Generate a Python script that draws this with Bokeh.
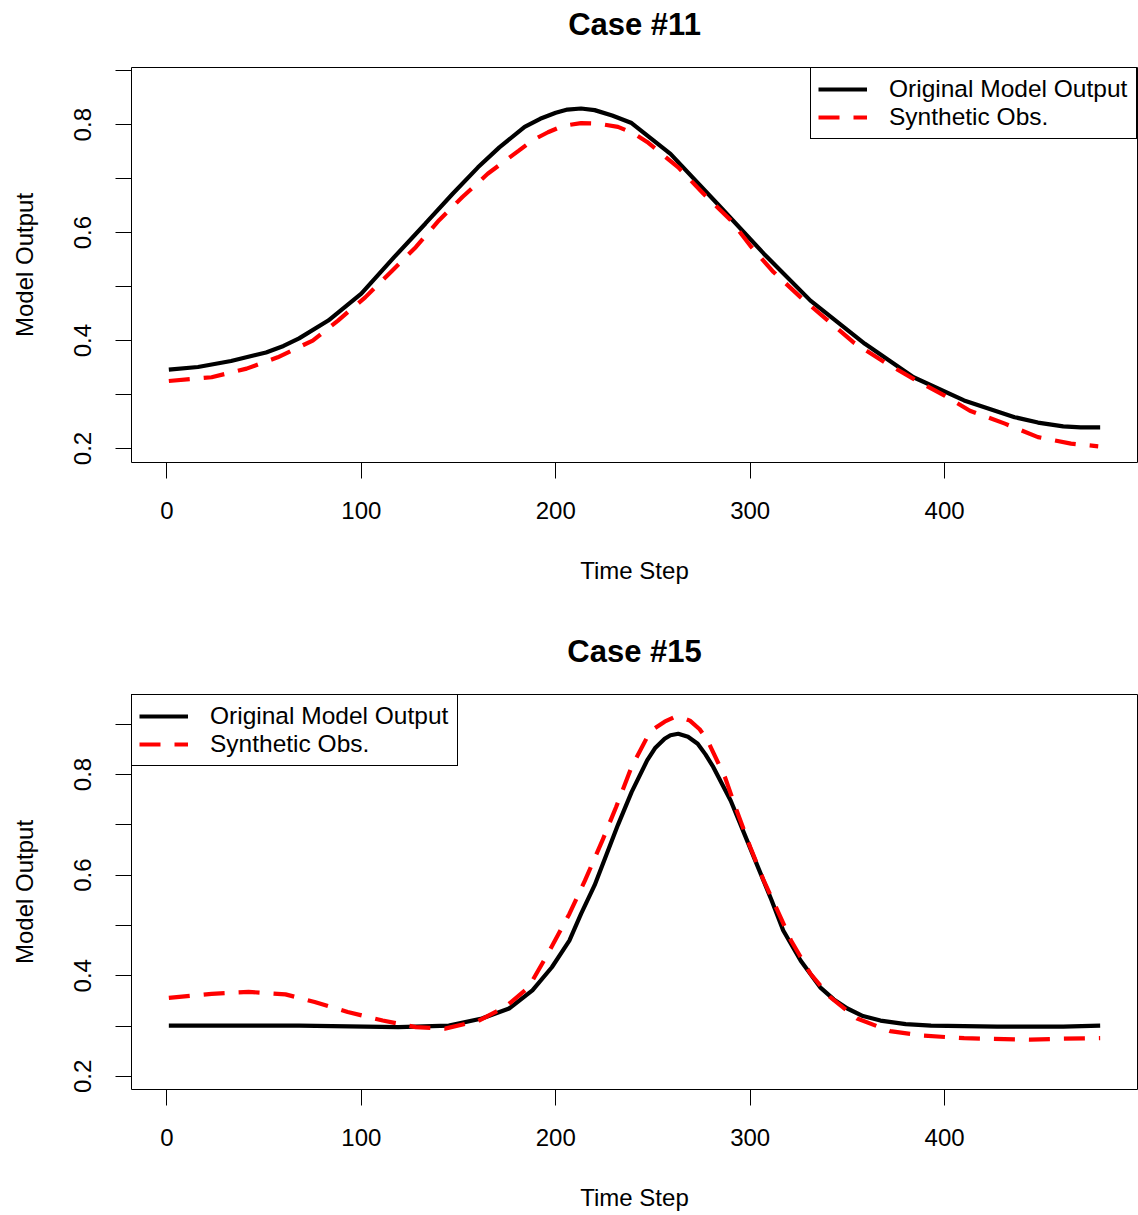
from bokeh.plotting import figure
from bokeh.models import Range1d, FixedTicker, Legend, LegendItem, Title
from bokeh.layouts import column
from bokeh.embed import file_html
from bokeh.resources import INLINE

# ---------------- data ----------------
x_ticks = [0, 100, 200, 300, 400]
y_ticks = [0.2, 0.4, 0.6, 0.8]
y_minor_ticks = [0.3, 0.5, 0.7, 0.9]

series_labels = ["Original Model Output", "Synthetic Obs."]
titles = ["Case #11", "Case #15"]

case11_model_x = [1, 16, 33, 51, 60, 68, 83, 100, 117, 133, 147, 160, 171, 184, 192, 200,
                  206, 213, 220, 229, 239, 259, 283, 307, 331, 359, 384, 410, 436, 448,
                  461, 470, 480]
case11_model_y = [0.346, 0.351, 0.362, 0.378, 0.390, 0.404, 0.437, 0.487, 0.555, 0.617,
                  0.672, 0.721, 0.758, 0.796, 0.811, 0.822, 0.828, 0.830, 0.827, 0.817,
                  0.803, 0.746, 0.654, 0.561, 0.474, 0.394, 0.332, 0.289, 0.258, 0.248,
                  0.241, 0.239, 0.239]

case11_obs_x = [1, 23, 41, 57, 75, 88, 102, 116, 128, 140, 152, 165, 181, 188, 196, 204,
                213, 222, 232, 240, 247, 263, 276, 290, 300, 312, 326, 340, 353, 369, 384,
                400, 413, 431, 448, 465, 479]
case11_obs_y = [0.325, 0.332, 0.348, 0.369, 0.400, 0.437, 0.480, 0.530, 0.573, 0.623,
                0.666, 0.709, 0.752, 0.771, 0.786, 0.798, 0.803, 0.802, 0.796, 0.784,
                0.768, 0.721, 0.672, 0.623, 0.576, 0.527, 0.480, 0.437, 0.397, 0.360,
                0.329, 0.298, 0.270, 0.246, 0.221, 0.209, 0.204]

case15_model_x = [1, 68, 119, 145, 162, 176, 188, 198, 207, 213, 220, 226, 232, 239, 247,
                  251, 256, 259, 263, 268, 273, 277, 281, 290, 297, 304, 311, 317, 326,
                  336, 343, 350, 358, 367, 380, 393, 427, 461, 480]
case15_model_y = [0.301, 0.301, 0.298, 0.301, 0.315, 0.335, 0.371, 0.417, 0.470, 0.523,
                  0.580, 0.640, 0.700, 0.765, 0.828, 0.852, 0.871, 0.878, 0.881, 0.875,
                  0.861, 0.840, 0.815, 0.748, 0.682, 0.616, 0.550, 0.490, 0.430, 0.377,
                  0.353, 0.335, 0.320, 0.311, 0.304, 0.301, 0.299, 0.299, 0.301]

case15_obs_x = [1, 23, 42, 61, 76, 93, 111, 128, 143, 160, 174, 186, 196, 207, 215, 224,
                231, 239, 247, 251, 256, 261, 265, 269, 274, 278, 287, 293, 300, 307, 314,
                321, 331, 341, 355, 372, 389, 410, 444, 461, 480]
case15_obs_y = [0.356, 0.364, 0.368, 0.363, 0.348, 0.328, 0.311, 0.298, 0.295, 0.310,
                0.338, 0.377, 0.444, 0.523, 0.589, 0.669, 0.735, 0.815, 0.874, 0.892,
                0.905, 0.914, 0.913, 0.907, 0.890, 0.868, 0.795, 0.729, 0.656, 0.589,
                0.530, 0.470, 0.404, 0.358, 0.315, 0.290, 0.281, 0.276, 0.273, 0.275,
                0.276]

FONT = "Liberation Sans"


def make_panel(title, mx, my, ox, oy, y_top, height, legend_loc, label_width):
    p = figure(width=1138, height=height, output_backend="svg", toolbar_location=None,
               x_range=Range1d(-18.2, 499.2), y_range=Range1d(0.174, y_top),
               min_border_left=131, min_border_right=1, min_border_top=67,
               min_border_bottom=height - 462, title_location=None)
    p.background_fill_color = "white"
    p.border_fill_color = "white"
    p.outline_line_color = "black"
    p.outline_line_width = 1
    p.outline_line_alpha = 1
    p.xgrid.visible = False
    p.ygrid.visible = False

    # spacer between the frame and the title (nearest the frame)
    p.add_layout(Title(text=" ", text_font_size="1px", standoff=23), "above")
    # the visible title
    p.add_layout(Title(text=title, text_font=FONT, text_font_size="31px",
                       text_font_style="bold", text_color="black",
                       align="center", standoff=0), "above")

    for ax in (p.xaxis[0], p.yaxis[0]):
        ax.axis_line_color = None
        ax.major_tick_out = 16
        ax.major_tick_in = 0
        ax.major_tick_line_color = "black"
        ax.major_tick_line_width = 1
        ax.major_label_text_font = FONT
        ax.major_label_text_font_size = "24px"
        ax.major_label_text_color = "black"
        ax.axis_label_text_font = FONT
        ax.axis_label_text_font_size = "24px"
        ax.axis_label_text_font_style = "normal"
        ax.axis_label_text_color = "black"

    p.xaxis[0].ticker = FixedTicker(ticks=x_ticks)
    p.xaxis[0].minor_tick_line_color = None
    p.xaxis[0].axis_label = "Time Step"
    p.xaxis[0].major_label_standoff = 23
    p.xaxis[0].axis_label_standoff = 35

    p.yaxis[0].ticker = FixedTicker(ticks=y_ticks, minor_ticks=y_minor_ticks)
    p.yaxis[0].minor_tick_out = 16
    p.yaxis[0].minor_tick_in = 0
    p.yaxis[0].minor_tick_line_color = "black"
    p.yaxis[0].minor_tick_line_width = 1
    p.yaxis[0].major_label_orientation = "vertical"
    p.yaxis[0].axis_label = "Model Output"
    p.yaxis[0].major_label_standoff = 24
    p.yaxis[0].axis_label_standoff = 34

    r1 = p.line(mx, my, line_color="black", line_width=4.2)
    r2 = p.line(ox, oy, line_color="#ff0000", line_width=4.2, line_dash="21 14")

    legend = Legend(items=[LegendItem(label=series_labels[0], renderers=[r1]),
                           LegendItem(label=series_labels[1], renderers=[r2])],
                    location=legend_loc, margin=0, padding=7, spacing=0,
                    glyph_width=49, glyph_height=20, label_height=20,
                    label_width=label_width,
                    label_standoff=22, label_text_font=FONT,
                    label_text_font_size="24.5px", label_text_color="black",
                    border_line_color="black", border_line_width=1,
                    border_line_alpha=1, background_fill_color="white",
                    background_fill_alpha=1)
    p.add_layout(legend)
    return p


p1 = make_panel(titles[0], case11_model_x, case11_model_y, case11_obs_x, case11_obs_y,
                0.906, 627, "top_right", 240)
p2 = make_panel(titles[1], case15_model_x, case15_model_y, case15_obs_x, case15_obs_y,
                0.959, 588, "top_left", 240)

layout = column(p1, p2, spacing=0)
open("out.html", "w").write(file_html(layout, INLINE))
